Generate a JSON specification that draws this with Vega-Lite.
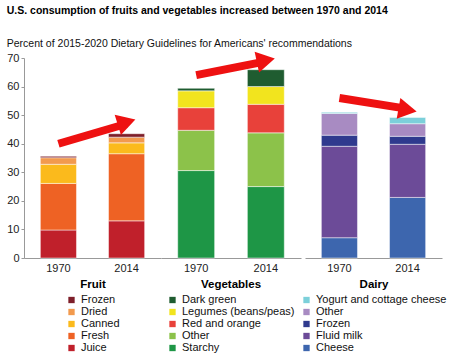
{
  "$schema": "https://vega.github.io/schema/vega-lite/v6.json",
  "padding": {"left": 6, "top": 6, "right": 2, "bottom": 2},
  "title": {
    "text": "U.S. consumption of fruits and vegetables increased between 1970 and 2014",
    "subtitle": "Percent of 2015-2020 Dietary Guidelines for Americans' recommendations",
    "anchor": "start", "frame": "bounds",
    "font": "Liberation Sans", "fontSize": 10.5, "fontWeight": "bold", "color": "#000",
    "subtitleFont": "Liberation Sans", "subtitleFontSize": 10.5, "subtitleColor": "#111",
    "subtitlePadding": 22, "offset": -4
  },
  "config": {
    "view": {"stroke": null},
    "font": "Liberation Sans",
    "axis": {"labelFont": "Liberation Sans", "labelFontSize": 11, "labelColor": "#222", "domainColor": "#999", "tickColor": "#999", "grid": false},
    "legend": {
      "orient": "bottom", "direction": "vertical",
      "layout": {"bottom": {"anchor": "middle"}},
      "titleAnchor": "middle", "titleAlign": "center",
      "titleFont": "Liberation Sans", "titleFontSize": 11.5, "titleFontWeight": "bold", "titleColor": "#000", "titlePadding": 4,
      "labelFont": "Liberation Sans", "labelFontSize": 11, "labelColor": "#111", "labelOffset": 4,
      "symbolType": "square", "symbolSize": 40, "symbolStrokeWidth": 0, "rowPadding": 0, "offset": 6
    }
  },
  "spacing": 0,
  "resolve": {"scale": {"color": "independent"}},
  "hconcat": [
    {
      "width": 137, "height": 200,
      "encoding": {
        "x": {"field": "year", "type": "nominal", "scale": {"paddingInner": 0.47, "paddingOuter": 0.24},
              "axis": {"title": null, "labelAngle": 0, "ticks": false, "labelPadding": 4}},
        "y": {"field": "value", "type": "quantitative", "scale": {"domain": [0, 70], "nice": false},
              "axis": {"title": null, "values": [0, 10, 20, 30, 40, 50, 60, 70], "labelOverlap": false, "tickSize": 3, "labelPadding": 2}}
      },
      "layer": [
        {
          "data": {"values": [
            {"year": "1970", "item": "Juice", "k": 1, "value": 9.8},
            {"year": "1970", "item": "Fresh", "k": 2, "value": 16.3},
            {"year": "1970", "item": "Canned", "k": 3, "value": 6.7},
            {"year": "1970", "item": "Dried", "k": 4, "value": 2.3},
            {"year": "1970", "item": "Frozen", "k": 5, "value": 0.5},
            {"year": "2014", "item": "Juice", "k": 1, "value": 13.0},
            {"year": "2014", "item": "Fresh", "k": 2, "value": 23.5},
            {"year": "2014", "item": "Canned", "k": 3, "value": 3.8},
            {"year": "2014", "item": "Dried", "k": 4, "value": 2.0},
            {"year": "2014", "item": "Frozen", "k": 5, "value": 1.2}
          ]},
          "mark": {"type": "bar", "stroke": "white", "strokeWidth": 0.8, "strokeOpacity": 0.6},
          "encoding": {
            "color": {"field": "item", "type": "nominal",
                      "scale": {"domain": ["Frozen", "Dried", "Canned", "Fresh", "Juice"],
                                "range": ["#7E1F2A", "#F29A4E", "#FBBA1C", "#EE6224", "#C0202B"]},
                      "legend": {"title": "Fruit"}},
            "order": {"field": "k", "type": "quantitative"}
          }
        },
        {
          "data": {"values": [{"year": "1970", "value": 40.0}, {"year": "2014", "value": 47.0}]},
          "mark": {"type": "line", "color": "#EE1111", "strokeWidth": 8},
          "encoding": {}
        },
        {
          "data": {"values": [{"year": "2014", "value": 47.5}]},
          "mark": {"type": "point", "shape": "triangle-right", "size": 450, "filled": true, "color": "#EE1111", "opacity": 1, "angle": -17},
          "encoding": {}
        }
      ]
    },
    {
      "width": 140, "height": 200,
      "encoding": {
        "x": {"field": "year", "type": "nominal", "scale": {"paddingInner": 0.47, "paddingOuter": 0.24},
              "axis": {"title": null, "labelAngle": 0, "ticks": false, "labelPadding": 4}},
        "y": {"field": "value", "type": "quantitative", "scale": {"domain": [0, 70], "nice": false}, "axis": null}
      },
      "layer": [
        {
          "data": {"values": [
            {"year": "1970", "item": "Starchy", "k": 1, "value": 30.6},
            {"year": "1970", "item": "Other", "k": 2, "value": 14.1},
            {"year": "1970", "item": "Red and orange", "k": 3, "value": 7.9},
            {"year": "1970", "item": "Legumes (beans/peas)", "k": 4, "value": 5.9},
            {"year": "1970", "item": "Dark green", "k": 5, "value": 0.9},
            {"year": "2014", "item": "Starchy", "k": 1, "value": 25.0},
            {"year": "2014", "item": "Other", "k": 2, "value": 18.8},
            {"year": "2014", "item": "Red and orange", "k": 3, "value": 10.0},
            {"year": "2014", "item": "Legumes (beans/peas)", "k": 4, "value": 6.2},
            {"year": "2014", "item": "Dark green", "k": 5, "value": 5.9}
          ]},
          "mark": {"type": "bar", "stroke": "white", "strokeWidth": 0.8, "strokeOpacity": 0.6},
          "encoding": {
            "color": {"field": "item", "type": "nominal",
                      "scale": {"domain": ["Dark green", "Legumes (beans/peas)", "Red and orange", "Other", "Starchy"],
                                "range": ["#1F5C30", "#F2E41E", "#E8413A", "#8CC24A", "#1E9646"]},
                      "legend": {"title": "Vegetables"}},
            "order": {"field": "k", "type": "quantitative"}
          }
        },
        {
          "data": {"values": [{}]},
          "mark": {"type": "rule", "color": "#999", "strokeWidth": 1},
          "encoding": {"x": {"datum": "1970", "bandPosition": -0.45}, "y": {"datum": 0}, "y2": {"datum": -34}}
        },
        {
          "data": {"values": [{"year": "1970", "value": 64.0}, {"year": "2014", "value": 68.8}]},
          "mark": {"type": "line", "color": "#EE1111", "strokeWidth": 8},
          "encoding": {}
        },
        {
          "data": {"values": [{"year": "2014", "value": 69.2}]},
          "mark": {"type": "point", "shape": "triangle-right", "size": 450, "filled": true, "color": "#EE1111", "opacity": 1, "angle": -12},
          "encoding": {}
        }
      ]
    },
    {
      "width": 137, "height": 200,
      "encoding": {
        "x": {"field": "year", "type": "nominal", "scale": {"paddingInner": 0.47, "paddingOuter": 0.24},
              "axis": {"title": null, "labelAngle": 0, "ticks": false, "labelPadding": 4}},
        "y": {"field": "value", "type": "quantitative", "scale": {"domain": [0, 70], "nice": false}, "axis": null}
      },
      "layer": [
        {
          "data": {"values": [
            {"year": "1970", "item": "Cheese", "k": 1, "value": 7.1},
            {"year": "1970", "item": "Fluid milk", "k": 2, "value": 32.0},
            {"year": "1970", "item": "Frozen", "k": 3, "value": 3.9},
            {"year": "1970", "item": "Other", "k": 4, "value": 7.6},
            {"year": "1970", "item": "Yogurt and cottage cheese", "k": 5, "value": 0.4},
            {"year": "2014", "item": "Cheese", "k": 1, "value": 21.2},
            {"year": "2014", "item": "Fluid milk", "k": 2, "value": 18.6},
            {"year": "2014", "item": "Frozen", "k": 3, "value": 2.8},
            {"year": "2014", "item": "Other", "k": 4, "value": 4.4},
            {"year": "2014", "item": "Yogurt and cottage cheese", "k": 5, "value": 2.2}
          ]},
          "mark": {"type": "bar", "stroke": "white", "strokeWidth": 0.8, "strokeOpacity": 0.6},
          "encoding": {
            "color": {"field": "item", "type": "nominal",
                      "scale": {"domain": ["Yogurt and cottage cheese", "Other", "Frozen", "Fluid milk", "Cheese"],
                                "range": ["#7CD0DA", "#A88BC2", "#2F3A8E", "#6C4B98", "#3D66AE"]},
                      "legend": {"title": "Dairy"}},
            "order": {"field": "k", "type": "quantitative"}
          }
        },
        {
          "data": {"values": [{}]},
          "mark": {"type": "rule", "color": "#999", "strokeWidth": 1},
          "encoding": {"x": {"datum": "1970", "bandPosition": -0.45}, "y": {"datum": 0}, "y2": {"datum": -34}}
        },
        {
          "data": {"values": [{"year": "1970", "value": 56.0}, {"year": "2014", "value": 52.2}]},
          "mark": {"type": "line", "color": "#EE1111", "strokeWidth": 8},
          "encoding": {}
        },
        {
          "data": {"values": [{"year": "2014", "value": 51.8}]},
          "mark": {"type": "point", "shape": "triangle-right", "size": 450, "filled": true, "color": "#EE1111", "opacity": 1, "angle": 10},
          "encoding": {}
        }
      ]
    }
  ]
}
